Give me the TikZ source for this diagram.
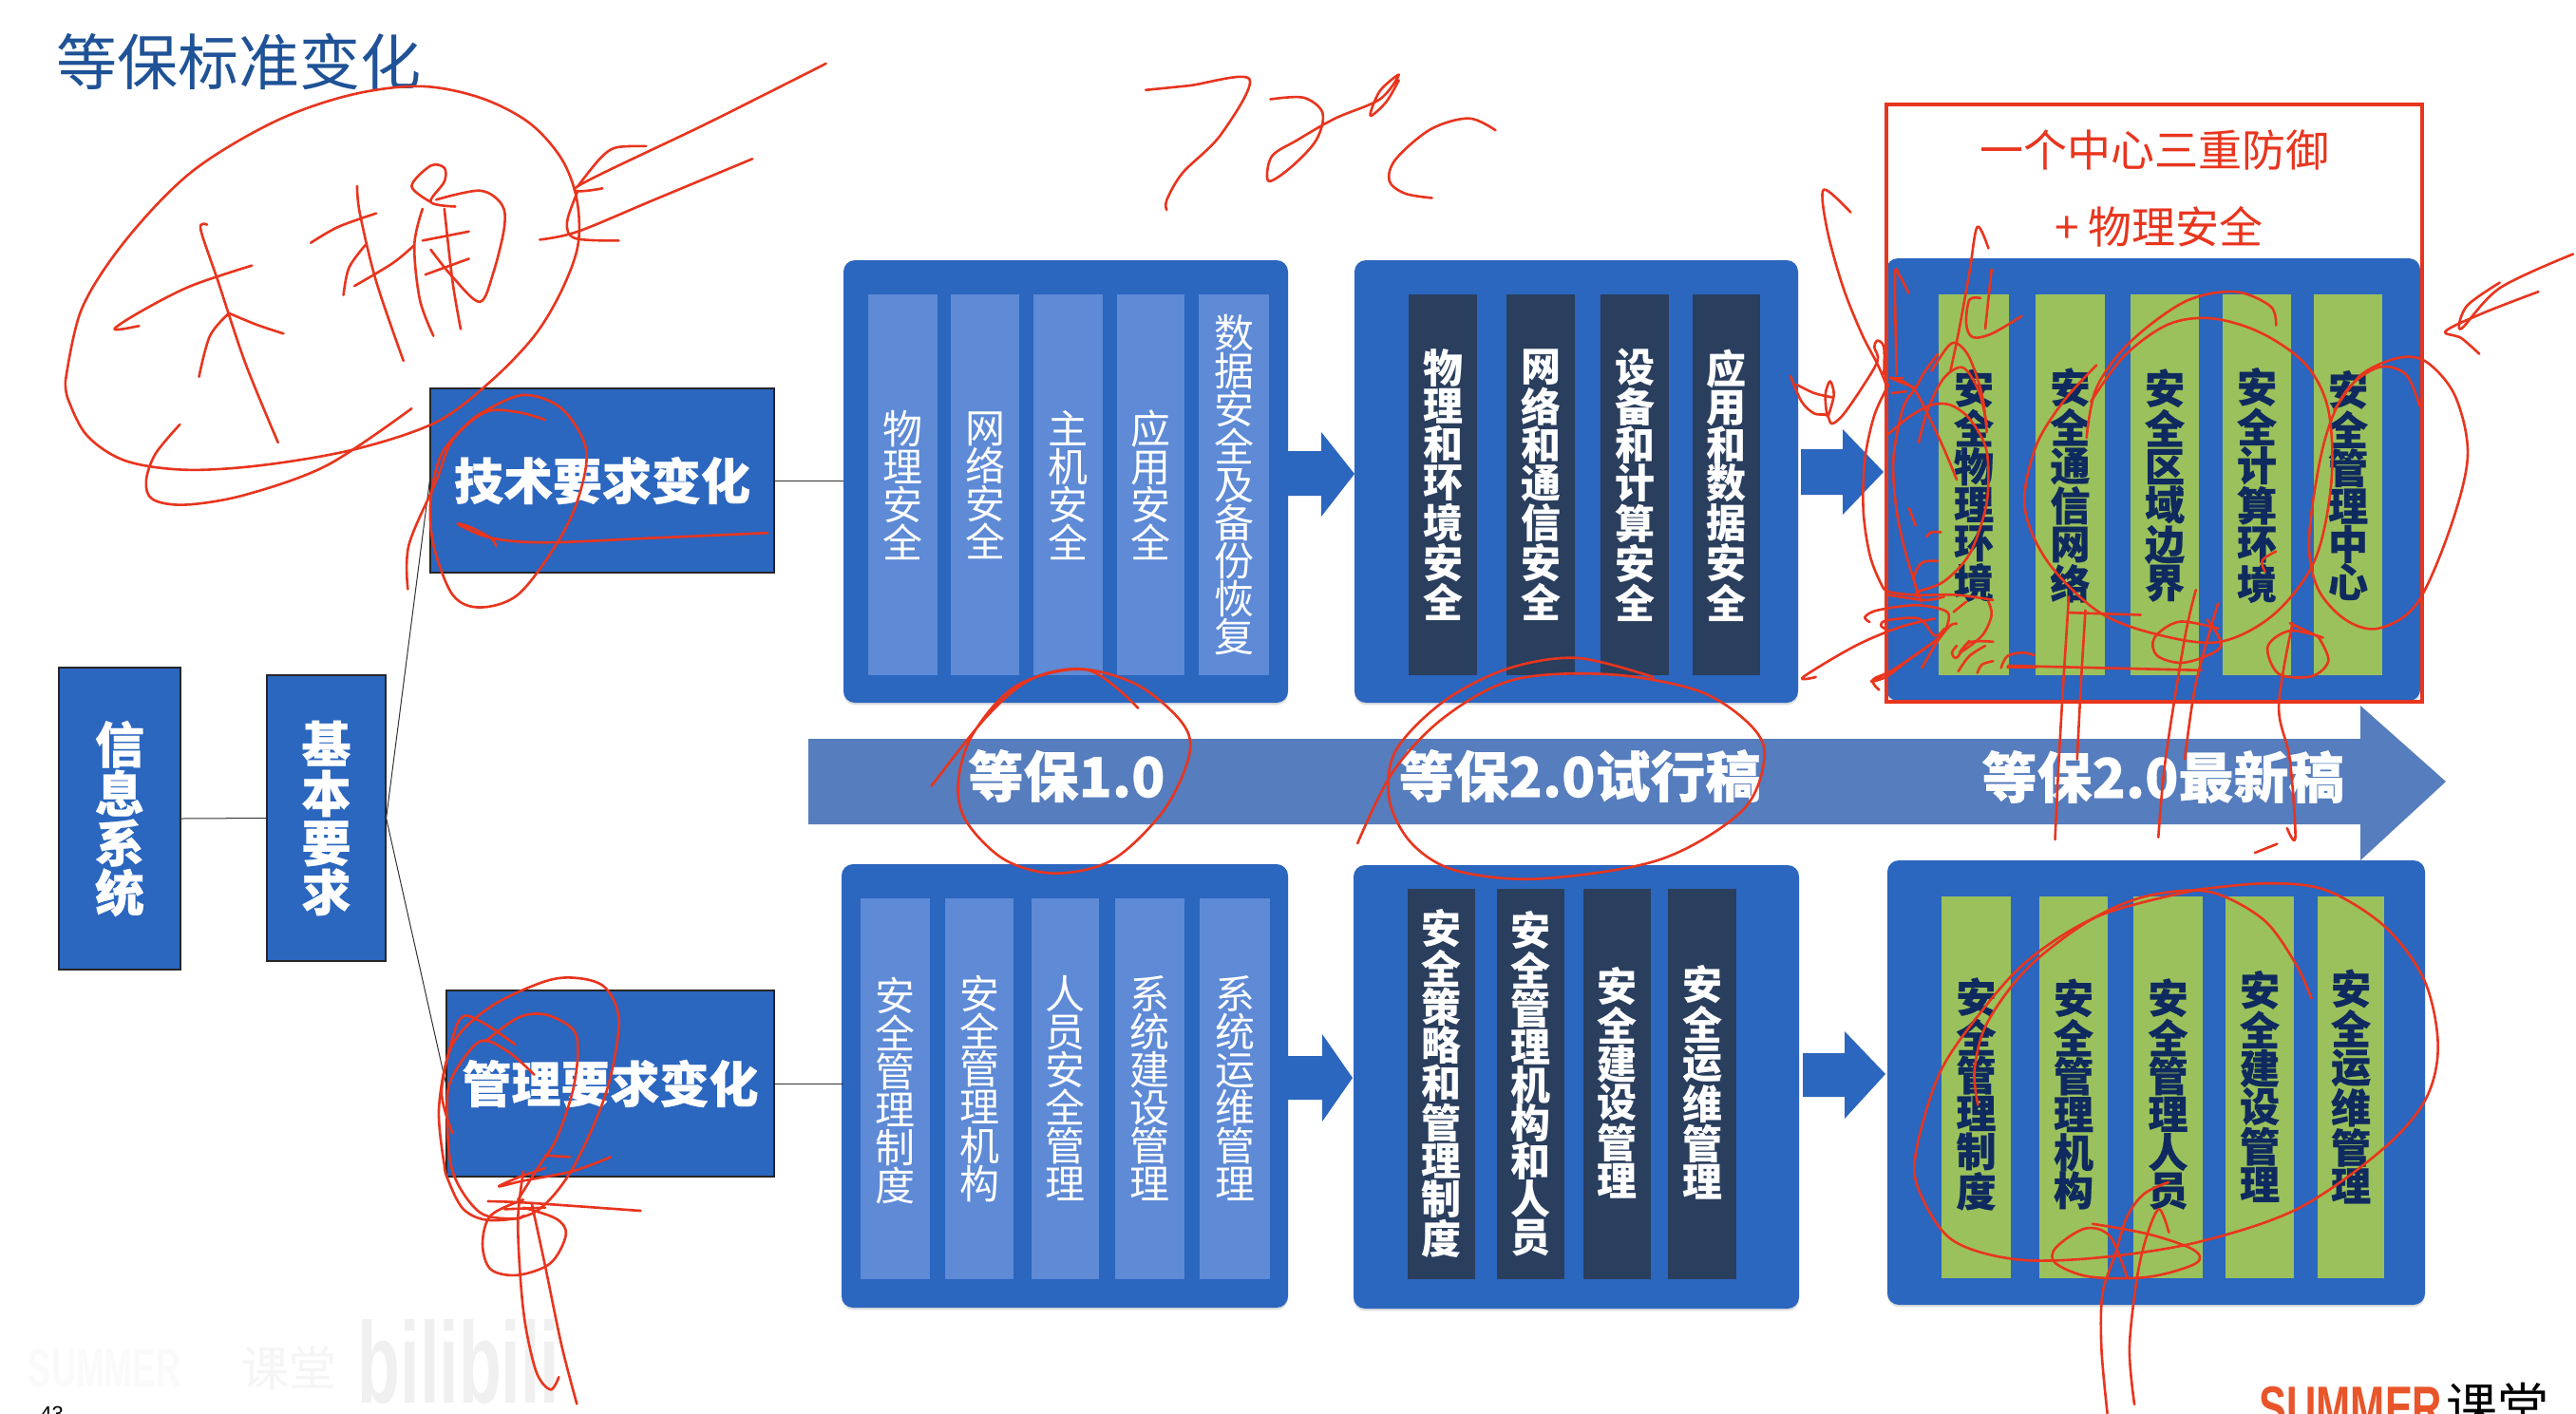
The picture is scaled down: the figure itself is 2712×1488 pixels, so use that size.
\documentclass[tikz,border=0pt]{standalone}
\usepackage{fontspec}
\setmainfont{Noto Sans CJK SC}
\newfontfamily\cjk{Noto Sans CJK SC}
\newfontfamily\cjkh{Noto Sans CJK SC}[BoldFeatures={FakeBold=0.5}]
\newfontfamily\lat{Liberation Sans}
\usetikzlibrary{shadows}
\definecolor{panelblue}{HTML}{2B66BF}
\definecolor{barlight}{HTML}{5E8AD6}
\definecolor{bardark}{HTML}{2A3E5E}
\definecolor{bargreen}{HTML}{9BC15C}
\definecolor{navytext}{HTML}{0F2A5E}
\definecolor{bandblue}{HTML}{567DBD}
\definecolor{titleblue}{HTML}{1F5296}
\definecolor{inkred}{HTML}{E8351E}
\definecolor{summerred}{HTML}{E8552B}
\newcommand\stroke[1]{\draw[ink] plot[smooth,tension=.55] coordinates {#1};}
\tikzset{
 ink/.style={draw=inkred,line width=1.3pt,line cap=round,line join=round},
 headbox/.style={draw=black!85,line width=.6pt,fill=panelblue,inner sep=0,text=white,align=center,font=\cjkh\bfseries\fontsize{26}{26}\selectfont},
 panel/.style={fill=panelblue,rounded corners=6pt,inner sep=0,drop shadow={shadow xshift=0pt,shadow yshift=-1.2pt,opacity=.25}},
 vreg/.style={text=white,inner sep=0,align=center,font=\cjk\fontsize{21}{20}\selectfont},
 vbold/.style={text=white,inner sep=0,align=center,font=\cjk\bfseries\fontsize{21}{20}\selectfont},
 vnavy/.style={text=navytext,inner sep=0,align=center,font=\cjkh\bfseries\fontsize{21}{20}\selectfont},
 bandtext/.style={text=white,inner sep=0,font=\cjkh\bfseries\fontsize{29}{29}\selectfont},
 redtext/.style={text=inkred,inner sep=0,font=\cjk\fontsize{23}{23}\selectfont},
 link/.style={draw=black!80,line width=.5pt},
}
\begin{document}
\begin{tikzpicture}[x=0.5pt,y=-0.5pt]
\useasboundingbox (0,0) rectangle (2712,1488);
\fill[white] (0,0) rectangle (2712,1488);

% title
\node[inner sep=0,text=titleblue,font=\cjk\fontsize{32}{32}\selectfont] (title) at (251,65) {等保标准变化};

% watermark
\node[inner sep=0,text=black!2,font=\lat\bfseries] (wms) at (110,1441) {\resizebox{80pt}{20pt}{SUMMER}};
\node[inner sep=0,text=black!4,font=\cjk\fontsize{25}{25}\selectfont] (wmk) at (304,1440) {课堂};
\node[inner sep=0,text=black!6,font=\lat\bfseries] (wmb) at (483,1434) {\resizebox{106pt}{44pt}{bilibili}};
\node[inner sep=0,anchor=north west,text=black,font=\lat\fontsize{11}{11}\selectfont] (pageno) at (42,1481) {43};

% band arrow
\fill[bandblue] (851,778) -- (2485,778) -- (2485,743) -- (2575,823) -- (2485,906) -- (2485,868) -- (851,868) -- cycle;
\node[bandtext] (bt1) at (1123,817) {等保1.0};
\node[bandtext] (bt2) at (1663,817) {等保2.0试行稿};
\node[bandtext] (bt3) at (2277,818) {等保2.0最新稿};

% left boxes
\node[headbox,minimum width=64pt,minimum height=159pt] (info) at (126,862) {信\\息\\系\\统};
\node[headbox,minimum width=62.5pt,minimum height=150.5pt] (basic) at (343.5,861.5) {基\\本\\要\\求};
\node[headbox,minimum width=181pt,minimum height=97pt] (tech) at (634,506) {技术要求变化};
\node[headbox,minimum width=172.5pt,minimum height=98pt] (mgmt) at (642.5,1141) {管理要求变化};

% panels
\node[panel,minimum width=234pt,minimum height=233pt] (p1) at (1122,507) {};
\node[panel,minimum width=233.5pt,minimum height=233pt] (p2) at (1659.5,507) {};
\node[panel,minimum width=281pt,minimum height=233pt] (p3) at (2267,505) {};
\node[panel,minimum width=235pt,minimum height=233.5pt] (q1) at (1121,1143.5) {};
\node[panel,minimum width=234.5pt,minimum height=233.5pt] (q2) at (1659.5,1144.5) {};
\node[panel,minimum width=283pt,minimum height=234pt] (q3) at (2270,1140) {};

% connectors
\draw[link] (info.east) -- (basic.west);
\draw[link] (basic.east) -- (tech.west);
\draw[link] (basic.east) -- (mgmt.west);
\draw[link] (tech.east) -- (tech.east -| p1.west);
\draw[link] (mgmt.east) -- (p1.west |- mgmt.east);

% block arrows
\fill[panelblue] (1356,475) -- (1391,475) -- (1391,455) -- (1426,499) -- (1391,544) -- (1391,522) -- (1356,522) -- cycle;
\fill[panelblue] (1896,473) -- (1940,473) -- (1940,452) -- (1983,497) -- (1940,542) -- (1940,521) -- (1896,521) -- cycle;
\fill[panelblue] (1356,1112) -- (1392,1112) -- (1392,1089) -- (1424,1135) -- (1392,1181) -- (1392,1158) -- (1356,1158) -- cycle;
\fill[panelblue] (1898,1109) -- (1942,1109) -- (1942,1086) -- (1985,1131) -- (1942,1178) -- (1942,1155) -- (1898,1155) -- cycle;

% bars: top row
\fill[barlight] (914,310) rectangle (987,711);
\fill[barlight] (1001,310) rectangle (1073,711);
\fill[barlight] (1088,310) rectangle (1161,711);
\fill[barlight] (1176,310) rectangle (1247,711);
\fill[barlight] (1262,310) rectangle (1336,711);
\node[vreg] (a1) at (950.5,511) {物\\理\\安\\全};
\node[vreg] (a2) at (1037,511) {网\\络\\安\\全};
\node[vreg] (a3) at (1124.5,511) {主\\机\\安\\全};
\node[vreg] (a4) at (1211.5,511) {应\\用\\安\\全};
\node[vreg] (a5) at (1299,511) {数\\据\\安\\全\\及\\备\\份\\恢\\复};

\fill[bardark] (1483,310) rectangle (1555,711);
\fill[bardark] (1586,310) rectangle (1658,711);
\fill[bardark] (1685,310) rectangle (1757,711);
\fill[bardark] (1782,310) rectangle (1853,711);
\node[vbold] (b1) at (1519,511) {物\\理\\和\\环\\境\\安\\全};
\node[vbold] (b2) at (1622,511) {网\\络\\和\\通\\信\\安\\全};
\node[vbold] (b3) at (1721,511) {设\\备\\和\\计\\算\\安\\全};
\node[vbold] (b4) at (1817.5,511) {应\\用\\和\\数\\据\\安\\全};

\fill[bargreen] (2041,310) rectangle (2115,711);
\fill[bargreen] (2143,310) rectangle (2216,711);
\fill[bargreen] (2243,310) rectangle (2315,711);
\fill[bargreen] (2340,310) rectangle (2412,711);
\fill[bargreen] (2436,310) rectangle (2508,711);
\node[vnavy] (c1) at (2078,511) {安\\全\\物\\理\\环\\境};
\node[vnavy] (c2) at (2179.5,511) {安\\全\\通\\信\\网\\络};
\node[vnavy] (c3) at (2279,511) {安\\全\\区\\域\\边\\界};
\node[vnavy] (c4) at (2376,511) {安\\全\\计\\算\\环\\境};
\node[vnavy] (c5) at (2472,511) {安\\全\\管\\理\\中\\心};

% bars: bottom row
\fill[barlight] (906,946) rectangle (979,1347);
\fill[barlight] (995,946) rectangle (1067,1347);
\fill[barlight] (1086,946) rectangle (1157,1347);
\fill[barlight] (1174,946) rectangle (1247,1347);
\fill[barlight] (1263,946) rectangle (1337,1347);
\node[vreg] (d1) at (942.5,1148) {安\\全\\管\\理\\制\\度};
\node[vreg] (d2) at (1031,1146) {安\\全\\管\\理\\机\\构};
\node[vreg] (d3) at (1121.5,1146) {人\\员\\安\\全\\管\\理};
\node[vreg] (d4) at (1210.5,1146) {系\\统\\建\\设\\管\\理};
\node[vreg] (d5) at (1300,1146) {系\\统\\运\\维\\管\\理};

\fill[bardark] (1482,936) rectangle (1553,1347);
\fill[bardark] (1576,936) rectangle (1647,1347);
\fill[bardark] (1667,936) rectangle (1738,1347);
\fill[bardark] (1756,936) rectangle (1828,1347);
\node[vbold] (e1) at (1517.5,1141) {安\\全\\策\\略\\和\\管\\理\\制\\度};
\node[vbold] (e2) at (1611.5,1141) {安\\全\\管\\理\\机\\构\\和\\人\\员};
\node[vbold] (e3) at (1702.5,1140) {安\\全\\建\\设\\管\\理};
\node[vbold] (e4) at (1792,1140) {安\\全\\运\\维\\管\\理};

\fill[bargreen] (2044,944) rectangle (2117,1346);
\fill[bargreen] (2147,944) rectangle (2219,1346);
\fill[bargreen] (2246,944) rectangle (2319,1346);
\fill[bargreen] (2343,944) rectangle (2415,1346);
\fill[bargreen] (2440,944) rectangle (2510,1346);
\node[vnavy] (f1) at (2080.5,1152) {安\\全\\管\\理\\制\\度};
\node[vnavy] (f2) at (2183,1152) {安\\全\\管\\理\\机\\构};
\node[vnavy] (f3) at (2282.5,1152) {安\\全\\管\\理\\人\\员};
\node[vnavy] (f4) at (2379,1144) {安\\全\\建\\设\\管\\理};
\node[vnavy] (f5) at (2475,1144) {安\\全\\运\\维\\管\\理};

% red frame and its text
\draw[inkred,line width=1.9pt] (1986,110) rectangle (2550,739);
\node[redtext] (r1) at (2268,158) {一个中心三重防御};
\node[redtext] (r2) at (2273,239) {+ 物理安全};

% logo
\node[inner sep=0,anchor=base west,text=summerred,font=\lat\bfseries\fontsize{31}{31}\selectfont] (lg1) at (2378,1503) {\scalebox{.70}[1]{SUMMER}};
\node[inner sep=0,anchor=base west,text=black,font=\cjk\fontsize{27}{27}\selectfont] (lg2) at (2575,1501) {课堂};

% ---- handwriting, in the coordinates of each crop
\begin{scope}[shift={(0,0)},x=0.287pt,y=-0.239pt]
\stroke{(120,840) (150,680) (230,530) (350,380) (500,270) (640,210) (770,190) (880,215) (970,270) (1030,350) (1058,440) (1060,540) (1030,640) (980,740) (900,840) (800,930) (650,990) (480,1025) (340,1035) (230,1015) (160,960) (125,880) (120,840)}
\stroke{(330,935) (285,1000) (268,1060) (280,1100) (340,1112) (450,1090) (600,1025) (755,900)}
\stroke{(462,585) (350,630) (260,685) (210,725) (255,718)}
\stroke{(380,495) (368,505) (400,620) (450,800) (510,975)}
\stroke{(420,690) (385,740) (365,830)}
\stroke{(420,690) (470,715) (520,735)}
\stroke{(570,535) (620,500) (690,470)}
\stroke{(655,410) (660,470) (690,620) (740,795)}
\stroke{(670,540) (640,590) (630,650)}
\stroke{(650,630) (720,580) (760,540)}
\stroke{(790,445) (755,410) (790,365) (815,370) (815,400) (790,445) (835,455)}
\stroke{(775,460) (760,540) (770,660) (795,740)}
\stroke{(800,440) (880,420) (920,450) (925,500) (905,600) (880,665) (830,610) (790,550)}
\stroke{(775,530) (860,510)}
\stroke{(780,605) (860,570)}
\stroke{(815,460) (830,620) (845,725)}
\stroke{(1515,140) (1300,270) (1060,410) (1105,415)}
\stroke{(1060,410) (1100,350) (1130,325) (1185,322)}
\stroke{(1380,350) (1200,440) (1060,510) (990,528)}
\stroke{(1060,420) (1040,490) (1055,525) (1135,530)}
\stroke{(1000,925) (950,908) (890,908) (830,970) (800,1060) (750,1200) (748,1298)}
\stroke{(890,905) (960,870) (1030,900) (1075,990) (1060,1100) (1020,1200) (950,1310) (880,1338) (830,1310) (795,1200) (790,1100) (810,1000) (860,930) (890,905)}
\stroke{(1408,1174) (1200,1185) (1000,1195) (900,1185) (840,1155) (860,1160) (900,1185) (910,1203)}
\end{scope}

\begin{scope}[shift={(850,50)},x=0.3348pt,y=-0.287pt]
\stroke{(532,78) (600,70) (695,58) (650,160) (590,230) (565,280) (565,298)}
\stroke{(728,95) (780,92) (810,120) (800,170) (760,220) (725,245) (730,200) (770,170) (830,130) (900,95) (930,50) (900,80) (885,125) (910,100) (930,60)}
\stroke{(1082,152) (1040,130) (980,150) (925,205) (915,245) (940,268) (982,276)}
\stroke{(195,1355) (280,1230) (350,1160) (430,1140) (520,1170) (590,1240) (600,1300) (560,1400) (480,1490) (390,1515) (310,1490) (250,1420) (237,1350) (260,1260) (330,1170) (440,1142) (520,1212)}
\stroke{(865,1460) (920,1330) (1000,1230) (1110,1160) (1260,1150) (1400,1180) (1480,1240) (1505,1300) (1470,1400) (1340,1490) (1150,1525) (1020,1510) (950,1460) (915,1380) (925,1290) (1000,1200) (1100,1140) (1210,1120) (1330,1155)}
\end{scope}

\begin{scope}[shift={(1800,50)},x=0.2908pt,y=-0.239pt]
\stroke{(1500,538) (1400,585) (1332,625) (1360,640) (1393,675)}
\stroke{(1563,455) (1430,530) (1360,620) (1370,570) (1430,518)}
\stroke{(1285,790) (1260,720) (1210,705) (1150,760) (1110,880) (1085,1080) (1100,1190) (1150,1260) (1210,1280) (1280,1225) (1340,1060) (1372,900) (1350,770) (1300,695) (1250,683) (1180,720) (1130,800)}
\stroke{(1025,612) (1015,570) (950,538) (860,560) (760,650) (700,750) (682,860)}
\stroke{(690,780) (750,680) (830,610) (910,597) (1000,630) (1080,700) (1120,800) (1125,960) (1095,1130) (1020,1250) (920,1310) (800,1290) (700,1240) (610,1130) (570,1010) (590,880) (640,780) (700,700)}
\stroke{(540,1362) (890,1372)}
\stroke{(650,1245) (780,1250)}
\stroke{(650,1210) (640,1400) (632,1568) (625,1745)}
\stroke{(680,1240) (672,1400) (665,1568)}
\stroke{(880,1195) (860,1300) (825,1568) (812,1740)}
\stroke{(920,1225) (880,1400) (860,1568)}
\stroke{(920,1280) (850,1265) (805,1300) (810,1340) (860,1355) (925,1320) (900,1260)}
\stroke{(1110,1300) (1050,1285) (1010,1320) (1030,1380) (1090,1385) (1120,1350) (1100,1295)}
\stroke{(1055,1268) (1030,1450) (1050,1568) (1060,1740) (1045,1720)}
\stroke{(1050,1268) (1105,1300)}
\stroke{(1025,1110) (1000,1130) (1005,1155)}
\end{scope}

\begin{scope}[shift={(1860,180)},x=0.16667pt,y=-0.1786pt]
\stroke{(265,122) (180,55) (190,170) (240,340) (300,480) (350,570) (375,625)}
\stroke{(75,605) (110,680) (150,715) (190,720) (205,745) (240,720) (300,640) (350,560) (340,520) (350,500) (370,520) (370,600)}
\stroke{(190,720) (185,660) (200,620) (212,660) (195,720)}
\stroke{(95,630) (150,655) (210,668)}
\stroke{(700,228) (665,165) (640,300) (605,480) (580,590)}
\stroke{(710,290) (690,465)}
\stroke{(675,375) (640,380) (630,450) (650,490) (710,480) (805,428)}
\stroke{(385,775) (450,725) (520,690) (580,690) (640,730) (690,810) (700,900) (690,1000) (640,1130) (560,1210) (480,1240) (470,1255)}
\stroke{(600,910) (560,820) (510,720) (470,650) (430,620) (390,610) (470,640)}
\stroke{(540,540) (500,590) (470,640) (430,700) (400,850) (410,1000) (440,1130) (480,1250) (490,1270)}
\stroke{(480,800) (510,700) (560,610) (620,580) (670,650) (695,750)}
\stroke{(520,590) (570,520) (600,508) (640,550) (680,660) (695,770)}
\stroke{(385,630) (340,720) (310,850) (305,1000) (325,1130) (360,1215) (385,1240) (470,1250) (600,1250) (715,1265)}
\stroke{(385,1250) (500,1265) (560,1255)}
\stroke{(540,1150) (490,1155) (465,1200) (480,1250)}
\stroke{(505,1078) (520,1065) (550,1065)}
\stroke{(450,995) (470,1045)}
\stroke{(325,1330) (310,1315) (350,1295) (470,1280) (560,1295) (575,1320) (550,1370) (450,1440) (380,1490) (330,1505) (380,1480)}
\stroke{(155,1492) (115,1492) (280,1400) (420,1345) (530,1320)}
\stroke{(385,1355) (360,1340) (380,1325) (480,1320) (530,1370) (560,1350)}
\stroke{(490,1465) (540,1385) (580,1340) (600,1335)}
\stroke{(355,1530) (335,1500) (400,1470) (540,1380) (560,1350)}
\stroke{(700,1270) (710,1310) (680,1370) (610,1420) (640,1385)}
\stroke{(600,1400) (585,1420) (600,1435) (640,1390) (715,1388)}
\stroke{(605,1475) (640,1430) (690,1400)}
\stroke{(665,1480) (680,1455) (715,1445)}
\stroke{(740,1465) (760,1430) (810,1420) (845,1428)}
\stroke{(410,600) (405,310) (420,310) (448,360)}
\stroke{(760,1462) (850,1462)}
\stroke{(395,610) (430,610)}
\stroke{(395,655) (440,650)}
\stroke{(590,1300) (630,1270)}
\end{scope}

\begin{scope}[shift={(1900,850)},x=0.259pt,y=-0.2035pt]
\stroke{(915,118) (960,95)}
\stroke{(1030,495) (1000,410) (940,300) (860,235) (790,215) (680,235) (570,300) (450,420) (370,560) (345,680) (352,770)}
\stroke{(800,213) (940,197) (1060,215) (1180,310) (1260,450) (1287,620) (1260,760) (1170,890) (1000,1040) (800,1125) (600,1165) (430,1170) (300,1120) (235,1000) (225,900) (270,700) (340,560) (450,400) (600,280) (800,213)}
\stroke{(740,970) (690,1000) (655,1060) (630,1160) (605,1260) (603,1400) (615,1568)}
\stroke{(740,1100) (720,1040) (695,1110) (675,1220) (660,1400) (670,1545)}
\stroke{(585,1078) (700,1105) (790,1145) (795,1180) (700,1215) (580,1215) (510,1180) (510,1140) (570,1090) (620,1110) (655,1215)}
\end{scope}

\begin{scope}[shift={(0,1000)},x=0.287pt,y=-0.16667pt]
\stroke{(830,580) (810,450) (830,280) (850,210) (890,235) (945,300)}
\stroke{(980,395) (930,320) (880,290) (830,400) (820,500) (830,700) (880,830) (945,850) (960,840)}
\stroke{(890,290) (950,215) (1000,205) (1050,250) (1060,320) (1050,450) (1020,600) (990,680) (950,790)}
\stroke{(1000,650) (1045,655)}
\stroke{(815,680) (805,500) (830,300) (900,180) (1000,100) (1060,90) (1110,120) (1135,220) (1120,400) (1090,550) (1040,720) (980,830) (900,855) (850,820) (820,720) (815,680)}
\stroke{(1120,655) (1050,700) (960,730) (915,748) (950,720) (1000,690)}
\stroke{(895,795) (970,800) (1175,825)}
\stroke{(925,820) (1000,815)}
\stroke{(960,700) (950,850) (955,1050) (965,1200) (985,1340) (1010,1390) (1025,1350)}
\stroke{(975,800) (1000,1000) (1030,1250) (1058,1435)}
\stroke{(960,815) (1020,850) (1038,900) (1010,990) (950,1028) (900,1010) (885,930) (900,840) (960,790)}
\end{scope}
\end{tikzpicture}
\end{document}
